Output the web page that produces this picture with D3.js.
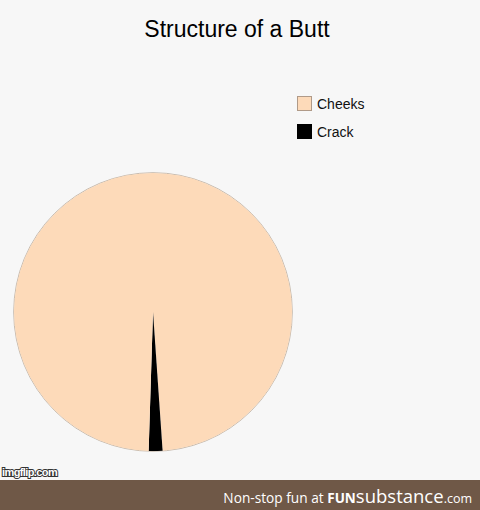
<!DOCTYPE html>
<html>
<head>
<meta charset="utf-8">
<script src="https://cdn.jsdelivr.net/npm/d3@7"></script>
<style>
  body { margin: 0; background: #f7f7f7; }
  text { font-family: "Liberation Sans", Arial, sans-serif; }
</style>
</head>
<body>
<script>
var svgWidth = 480;
var svgHeight = 510;

// legend categories and colours
var categories = ["Cheeks", "Crack"];
var colors = ["#fddab9", "#000000"];

// slices in drawing order (clockwise from 12 o'clock)
var sliceNames = ["Cheeks", "Crack", "Cheeks"];
var sliceValues = [48.9, 1.6, 49.5];

var svg = d3.select("body")
  .append("svg")
  .attr("width", svgWidth)
  .attr("height", svgHeight);

svg.append("rect")
  .attr("width", svgWidth)
  .attr("height", svgHeight)
  .attr("fill", "#f7f7f7");

// title
svg.append("text")
  .attr("x", 237)
  .attr("y", 37)
  .attr("text-anchor", "middle")
  .attr("font-size", "23px")
  .attr("fill", "#000")
  .text("Structure of a Butt");

var color = d3.scaleOrdinal()
  .domain(categories)
  .range(colors);

var slices = sliceNames.map(function(n, i) {
  return { name: n, value: sliceValues[i] };
});

var pie = d3.pie()
  .sort(null)
  .value(d => d.value);

var arc = d3.arc()
  .innerRadius(0)
  .outerRadius(139);

var pieGroup = svg.append("g")
  .attr("transform", "translate(153, 312)");

// faint outline round the whole pie
pieGroup.append("circle")
  .attr("r", 139.3)
  .attr("fill", "none")
  .attr("stroke", "#b8a898")
  .attr("stroke-width", 0.8);

pieGroup.selectAll("path")
  .data(pie(slices))
  .enter()
  .append("path")
  .attr("d", arc)
  .attr("fill", d => color(d.data.name));

// legend
var legend = svg.append("g")
  .attr("transform", "translate(297, 96)");

var items = legend.selectAll("g")
  .data(categories)
  .enter()
  .append("g")
  .attr("transform", (d, i) => `translate(0, ${i * 28})`);

items.append("rect")
  .attr("x", 0.5)
  .attr("y", 0.5)
  .attr("width", 14)
  .attr("height", 14)
  .attr("fill", d => color(d))
  .attr("stroke", d => d === "Crack" ? "#000" : "#b09a88")
  .attr("stroke-width", 1);

items.append("text")
  .attr("x", 20)
  .attr("y", 12.5)
  .attr("font-size", "14px")
  .attr("fill", "#111")
  .text(d => d);

// imgflip watermark
svg.append("text")
  .attr("x", 2)
  .attr("y", 476)
  .attr("font-size", "11px")
  .attr("font-weight", "bold")
  .attr("fill", "#fff")
  .attr("stroke", "#333")
  .attr("stroke-width", 2)
  .attr("paint-order", "stroke")
  .attr("letter-spacing", "-0.6")
  .text("imgflip.com");

// footer bar
svg.append("rect")
  .attr("x", 0)
  .attr("y", 480)
  .attr("width", svgWidth)
  .attr("height", 30)
  .attr("fill", "#6f5847");

var footer = svg.append("text")
  .attr("x", 472)
  .attr("y", 503)
  .attr("text-anchor", "end")
  .attr("fill", "#fff")
  .style("font-family", "'Open Sans', 'DejaVu Sans', sans-serif");

footer.append("tspan")
  .attr("font-size", "13.7px")
  .text("Non-stop fun at  ");
footer.append("tspan")
  .attr("font-size", "13.5px")
  .attr("font-weight", "bold")
  .text("FUN");
footer.append("tspan")
  .attr("font-size", "18.5px")
  .text("substance");
footer.append("tspan")
  .attr("font-size", "12.5px")
  .text(".com");
</script>
</body>
</html>
